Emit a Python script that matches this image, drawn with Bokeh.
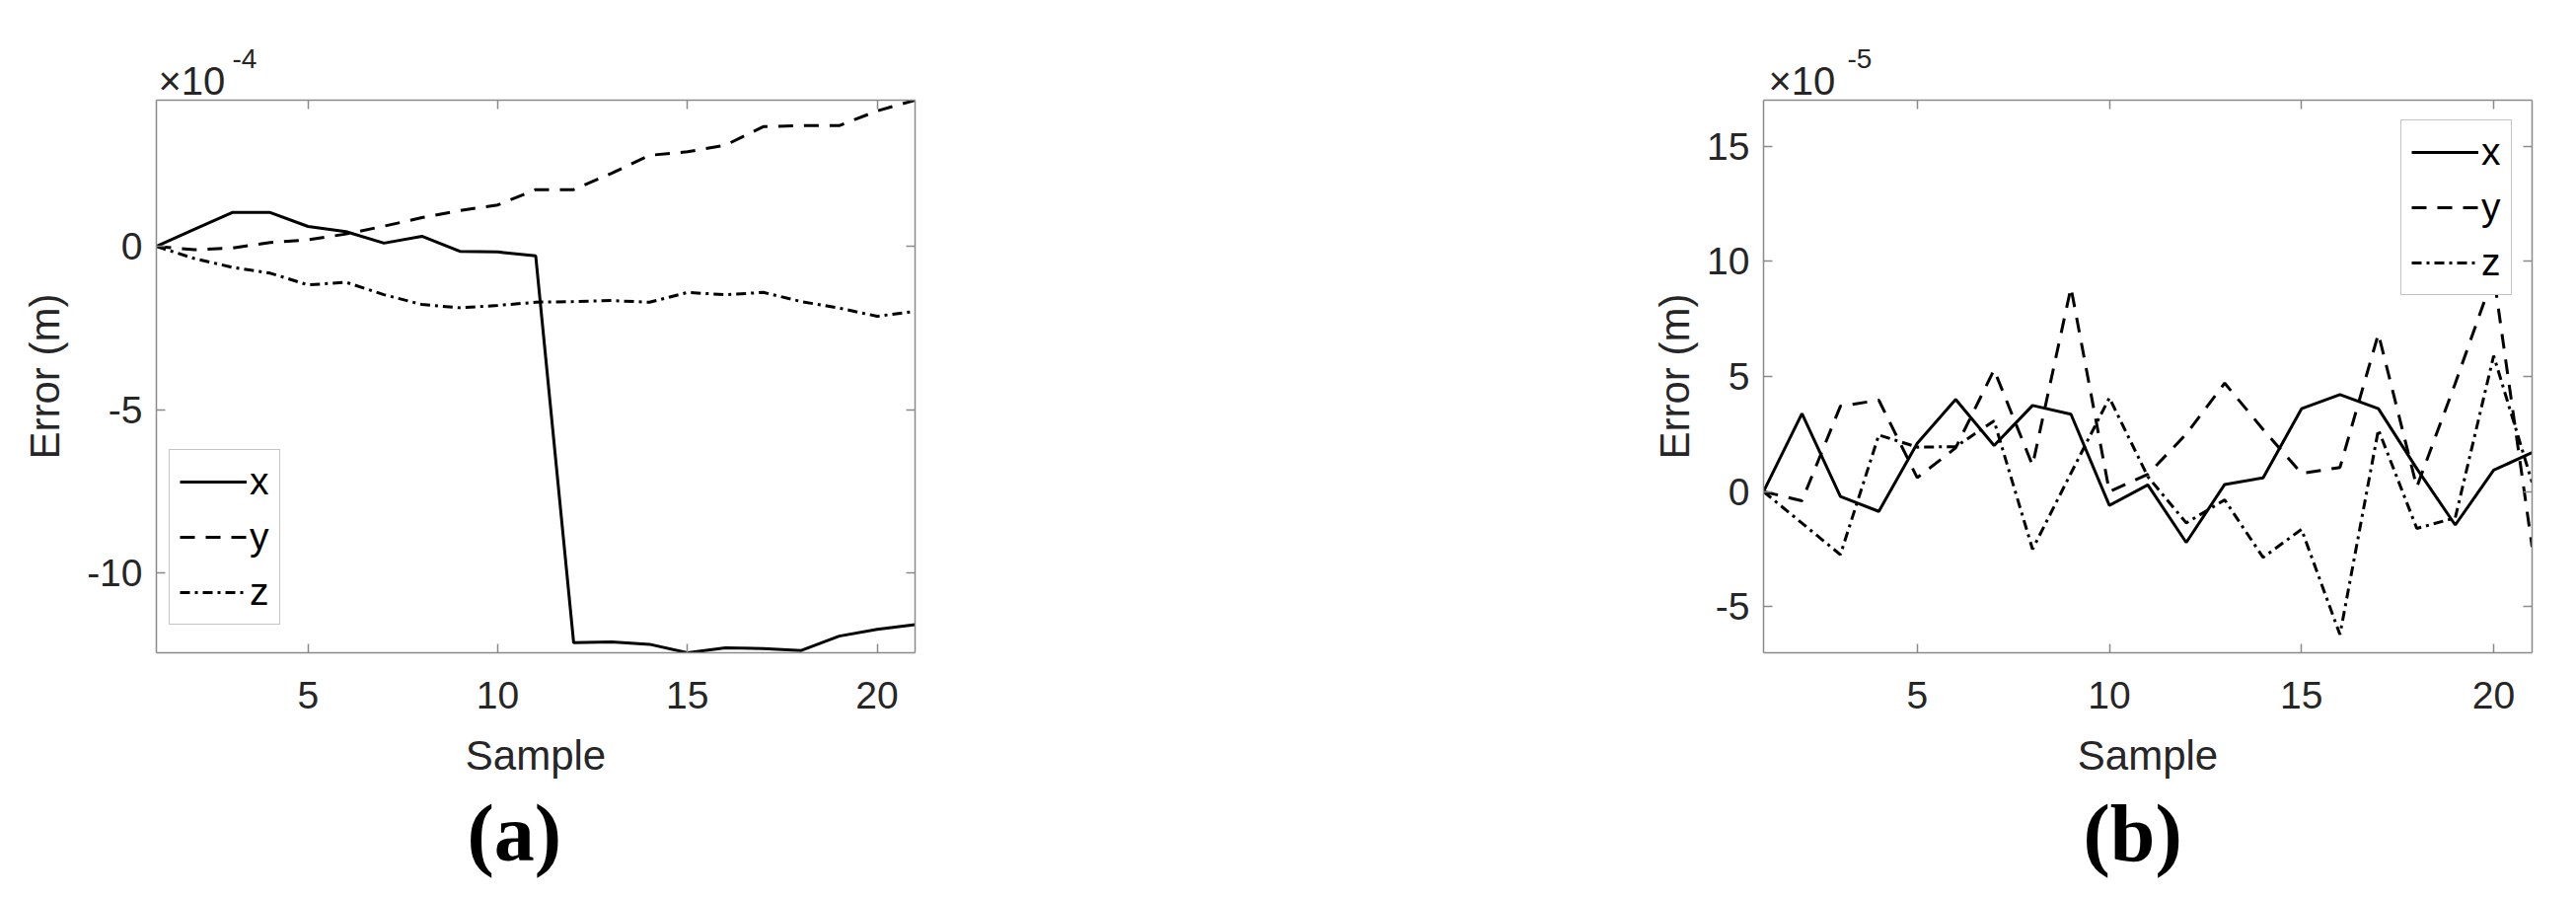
from bokeh.plotting import figure
from bokeh.models import Range1d, FixedTicker, LinearAxis, Title, CustomJSTickFormatter
from bokeh.layouts import row
from bokeh.embed import file_html
from bokeh.resources import INLINE

# ---------------- data ----------------
samples = list(range(1, 22))
xticks = [5, 10, 15, 20]

# panel (a): errors in units of 1e-4 m
a_x = [0, 0.52, 1.04, 1.04, 0.61, 0.45, 0.10, 0.31, -0.15, -0.17, -0.29,
       -12.14, -12.12, -12.19, -12.45, -12.30, -12.32, -12.38, -11.94, -11.73, -11.59]
a_y = [0, -0.10, -0.05, 0.12, 0.20, 0.38, 0.62, 0.88, 1.10, 1.27, 1.74,
       1.74, 2.24, 2.79, 2.90, 3.10, 3.67, 3.70, 3.70, 4.15, 4.48]
a_z = [0, -0.37, -0.64, -0.82, -1.18, -1.10, -1.48, -1.78, -1.88, -1.81, -1.71,
       -1.69, -1.66, -1.71, -1.41, -1.48, -1.41, -1.69, -1.89, -2.14, -1.99]
a_yticks = [-10, -5, 0]
a_exponent = "-4"

# panel (b): errors in units of 1e-5 m
b_x = [0, 3.39, -0.21, -0.86, 2.10, 4.00, 2.00, 3.74, 3.36, -0.60, 0.29,
       -2.21, 0.31, 0.60, 3.60, 4.21, 3.60, 1.00, -1.45, 0.93, 1.70]
b_y = [0, -0.40, 3.71, 3.97, 0.60, 1.90, 5.29, 1.14, 8.86, 0.00, 0.75,
       2.50, 4.71, 2.70, 0.79, 1.05, 6.85, 0.20, 4.70, 9.40, -2.40]
b_z = [0, -1.37, -2.74, 2.46, 1.93, 1.95, 3.07, -2.50, 0.80, 4.07, 0.65,
       -1.36, -0.36, -2.86, -1.64, -6.21, 2.69, -1.60, -1.14, 5.90, 0.40]
b_yticks = [-5, 0, 5, 10, 15]
b_ylim = (-7, 17)
b_exponent = "-5"

series_labels = ["x", "y", "z"]
series_dash = ["solid", "15 11", "10 5 3 5"]

# ---------------- style ----------------
H = 900
TOP = 101
FH = 560
AX_COLOR = "#8a8a8a"
TXT = "#262626"
FONT = "Liberation Sans"


def make_panel(vals, ylo, yhi, yticks, exponent, letter, width, bl, fw,
               legend_loc, letter_offset, exp_offsets, ylabel_standoff):
    br = width - bl - fw
    p = figure(width=width, height=H, output_backend="svg", toolbar_location=None,
               x_range=Range1d(1, 21), y_range=Range1d(ylo, yhi),
               min_border_left=bl, min_border_right=br,
               min_border_top=TOP, min_border_bottom=H - TOP - FH,
               x_axis_label="Sample", y_axis_label="Error (m)")
    p.outline_line_color = None
    p.grid.visible = False
    p.background_fill_color = "white"
    p.border_fill_color = "white"

    p.add_layout(LinearAxis(), "above")
    p.add_layout(LinearAxis(), "right")

    plain = CustomJSTickFormatter(code="return tick.toString()")
    blank = CustomJSTickFormatter(code="return ''")
    for ax in p.axis:
        ax.axis_line_color = AX_COLOR
        ax.axis_line_width = 1.5
        ax.major_tick_line_color = AX_COLOR
        ax.major_tick_line_width = 1.5
        ax.major_tick_in = 9
        ax.major_tick_out = 0
        ax.minor_tick_line_color = None
        ax.major_label_text_font = FONT
        ax.major_label_text_font_size = "39px"
        ax.major_label_text_color = TXT
        ax.axis_label_text_font = FONT
        ax.axis_label_text_font_size = "42px"
        ax.axis_label_text_font_style = "normal"
        ax.axis_label_text_color = TXT
        ax.formatter = plain
    for ax in p.xaxis:
        ax.ticker = FixedTicker(ticks=xticks)
    for ax in p.yaxis:
        ax.ticker = FixedTicker(ticks=yticks)
    for ax in (p.above[0], p.right[0]):
        ax.formatter = blank
        ax.major_label_standoff = 0
        ax.major_label_text_font_size = "1px"
    p.below[0].major_label_standoff = 29
    p.below[0].axis_label_standoff = 21
    p.left[0].major_label_standoff = 14
    p.left[0].axis_label_standoff = ylabel_standoff

    for v, lab, dash in zip(vals, series_labels, series_dash):
        p.line(samples, v, line_color="black", line_width=3, line_dash=dash,
               legend_label=lab)

    lg = p.legend[0]
    lg.location = legend_loc
    lg.margin = 20 if isinstance(legend_loc, str) else 0
    lg.border_line_color = AX_COLOR
    lg.border_line_width = 1.5
    lg.background_fill_color = "white"
    lg.background_fill_alpha = 1.0
    lg.label_text_font = FONT
    lg.label_text_font_size = "39px"
    lg.label_text_color = "black"
    lg.glyph_width = 68
    lg.glyph_height = 40
    lg.label_standoff = 3
    lg.padding = 10
    lg.spacing = 12

    # "x10" with its exponent as a raised, smaller text
    p.add_layout(Title(text="\u00d710", align="left", offset=exp_offsets[0], standoff=-4,
                       text_font=FONT, text_font_size="40px",
                       text_font_style="normal", text_color=TXT), "above")
    p.add_layout(Title(text=exponent, align="left", offset=exp_offsets[1], standoff=-18,
                       text_font=FONT, text_font_size="28px",
                       text_font_style="normal", text_color=TXT), "above")
    p.add_layout(Title(text=letter, align="left", offset=letter_offset, standoff=10,
                       text_font="Liberation Serif", text_font_size="82px",
                       text_font_style="bold", text_color="black"), "below")
    return p


a_vals = [a_x, a_y, a_z]
all_a = a_x + a_y + a_z
p1 = make_panel(a_vals, min(all_a), max(all_a), a_yticks, a_exponent, "(a)",
                width=1630, bl=158, fw=769, legend_loc=(13, 28),
                letter_offset=315, exp_offsets=(2, 77), ylabel_standoff=16)
p2 = make_panel([b_x, b_y, b_z], b_ylim[0], b_ylim[1], b_yticks, b_exponent, "(b)",
                width=973, bl=157, fw=779, legend_loc="top_right",
                letter_offset=324, exp_offsets=(5, 85), ylabel_standoff=6)

layout = row(p1, p2)
open("out.html", "w").write(file_html(layout, INLINE))
